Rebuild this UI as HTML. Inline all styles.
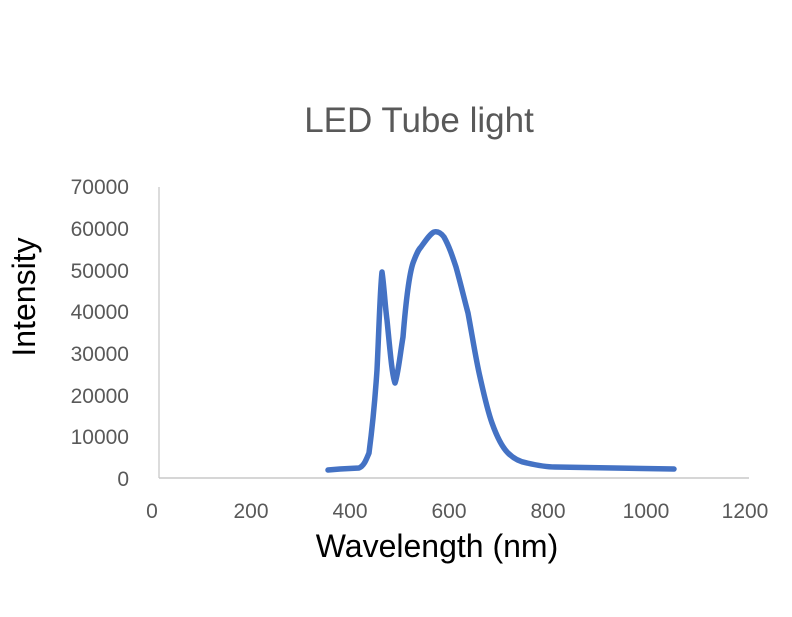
<!DOCTYPE html>
<html><head><style>body{margin:0;background:#fff}</style></head><body>
<svg width="792" height="612" xmlns="http://www.w3.org/2000/svg" font-family="Liberation Sans, sans-serif">
<text x="419" y="132" font-size="35" fill="#595959" text-anchor="middle">LED Tube light</text>
<line x1="159" y1="187" x2="159" y2="478" stroke="#d0d0d0" stroke-width="1.5"/>
<line x1="159" y1="478" x2="749" y2="478" stroke="#c8c8c8" stroke-width="1.5"/>
<g font-size="21" fill="#595959" text-anchor="end">
<text x="129" y="486">0</text>
<text x="129" y="444">10000</text>
<text x="129" y="403">20000</text>
<text x="129" y="361">30000</text>
<text x="129" y="319">40000</text>
<text x="129" y="278">50000</text>
<text x="129" y="236">60000</text>
<text x="129" y="194">70000</text>
</g>
<g font-size="21" fill="#595959" text-anchor="middle">
<text x="152" y="518">0</text>
<text x="251" y="518">200</text>
<text x="350" y="518">400</text>
<text x="449" y="518">600</text>
<text x="548" y="518">800</text>
<text x="646" y="518">1000</text>
<text x="745" y="518">1200</text>
</g>
<text x="437" y="557" font-size="32" fill="#000" text-anchor="middle">Wavelength (nm)</text>
<text transform="translate(35,297) rotate(-90)" font-size="32" fill="#000" text-anchor="middle">Intensity</text>
<path d="M328,470 L340,469 L359,468 C364,466 366,460 369,453 C372,430 375,400 377,370 C379,330 380,290 382,272 C384,285 385,305 387,320 C390,350 392,375 395,383 C398,375 400,355 403,337 C406,300 409,275 413,263 C416,255 418,250 421,247 C426,240 430,234 434,232 C438,231 441,233 444,237 C449,246 452,255 456,267 C461,285 464,298 468,313 C473,340 476,360 480,377 C484,395 488,412 492,423 C497,437 502,447 508,453 C514,459 520,462 527,463 C540,466 548,467 555,467 L674,469" fill="none" stroke="#4472C4" stroke-width="5.5" stroke-linejoin="round" stroke-linecap="round"/>
</svg>
</body></html>
